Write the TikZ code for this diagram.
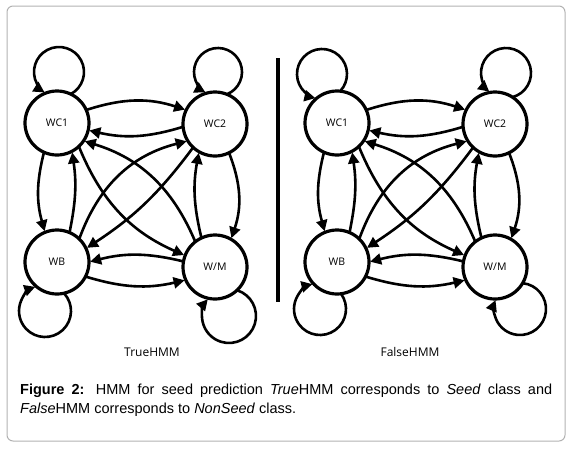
\documentclass[tikz,border=0pt]{standalone}
\usepackage{fontspec}
\setmainfont{Liberation Sans}
\newfontfamily\lblfont{Open Sans}
\usetikzlibrary{arrows.meta,calc}
\newcommand\hmmloop[5]{%
 \pgfmathsetmacro\lpd{veclen(#2,#3)}%
 \pgfmathsetmacro\lpph{atan2(-1*(#3),-1*(#2))}%
 \pgfmathsetmacro\lpal{acos((\lpd*\lpd+#4*#4-1024)/(2*\lpd*#4))}%
 \ifnum#5>0
  \pgfmathsetmacro\lps{\lpph+\lpal}\pgfmathsetmacro\lpe{\lpph-\lpal+360}%
 \else
  \pgfmathsetmacro\lps{\lpph-\lpal}\pgfmathsetmacro\lpe{\lpph+\lpal-360}%
 \fi
 \draw[arr] ($(#1)+(#2,#3)+(\lps:#4)$) arc[start angle=\lps, end angle=\lpe, radius=#4];
}
\newcommand\hmmpanel[2]{%
 \node[hstate] (#1a) at (57+#2,-123) {WC1};
 \node[hstate] (#1b) at (215+#2,-124) {WC2};
 \node[hstate] (#1c) at (57+#2,-262) {WB};
 \node[hstate] (#1d) at (215+#2,-267) {W/M};
 \draw[arr] (#1a.24) to[bend left=18] (#1b.154);
 \draw[arr] (#1b.185) to[bend left=15] (#1a.347);
 \draw[arr] (#1a.246) to[bend right=15] (#1c.112);
 \draw[arr] (#1c.67) to[bend right=10] (#1a.298);
 \draw[arr] (#1b.296) to[bend left=20] (#1d.60);
 \draw[arr] (#1d.115) to[bend left=12] (#1b.240);
 \draw[arr] (#1a.313) to[bend right=22] (#1d.159);
 \draw[arr] (#1d.128) to[bend right=25] (#1a.326);
 \draw[arr] (#1c.46) to[bend left=28] (#1b.212);
 \draw[arr] (#1b.227) to[bend left=10] (#1c.25);
 \draw[arr] (#1c.333) to[bend right=15] (#1d.204);
 \draw[arr] (#1d.170) to[bend right=14] (#1c.0);
}
\begin{document}
\begin{tikzpicture}[x=1pt,y=1pt,
  hstate/.style={circle,draw,line width=3.2pt,minimum size=64pt,inner sep=0pt,outer sep=0pt,
    font=\lblfont\fontsize{10.5}{12}\selectfont},
  arr/.style={line width=2.6pt,-{Triangle[length=11pt,width=11pt]},shorten >=1.2pt},
]
\useasboundingbox (0,0) rectangle (572,-450);
\draw[rounded corners=6pt, draw=black!30, line width=1pt] (7,-6) rectangle (565,-441);

\hmmpanel{L}{0}
\hmmpanel{R}{280}

\hmmloop{La}{2}{51}{25}{1}
\hmmloop{Lb}{3}{52}{24}{1}
\hmmloop{Lc}{-12}{-49}{26}{-1}
\hmmloop{Ld}{14}{-49}{27}{-1}
\hmmloop{Ra}{-15}{49}{25}{1}
\hmmloop{Rb}{11}{51}{25}{1}
\hmmloop{Rc}{-17}{-47}{26}{-1}
\hmmloop{Rd}{25}{-42}{26}{-1}

\draw[line width=4pt] (278,-58) -- (278,-302);

\node[font=\lblfont\fontsize{12}{14}\selectfont] (t1) at (152,-352) {TrueHMM};
\node[font=\lblfont\fontsize{12}{14}\selectfont] (t2) at (410,-352) {FalseHMM};

\node[anchor=north west, inner sep=0pt, text width=532pt, align=justify,
  font=\fontsize{14.5}{19}\selectfont] (cap) at (20,-384)
  {\textbf{Figure 2:} HMM for seed prediction \textit{True}HMM corresponds to \textit{Seed} class and \textit{False}HMM corresponds to \textit{NonSeed} class.};
\end{tikzpicture}
\end{document}
